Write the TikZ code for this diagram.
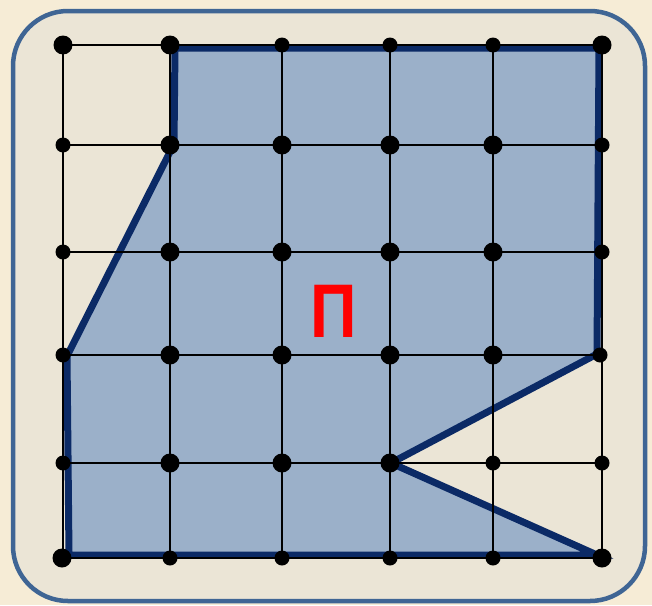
\documentclass[tikz,border=0pt]{standalone}
\usepackage{fontspec}
\newfontfamily\pefont{Liberation Sans}
\definecolor{paper}{HTML}{F6ECD6}
\definecolor{card}{HTML}{EBE5D6}
\definecolor{cardedge}{HTML}{3F6594}
\definecolor{shade}{HTML}{9BB0C9}
\definecolor{navy}{HTML}{0B2A66}
\definecolor{pered}{HTML}{FF0000}
\tikzset{
  gridline/.style={black, line width=2pt},
  outline/.style={navy, line width=7pt, line join=miter, fill=shade},
  bigdot/.style={circle, fill=black, inner sep=0pt, minimum size=19pt},
  smalldot/.style={circle, fill=black, inner sep=0pt, minimum size=15pt},
}
\begin{document}
\begin{tikzpicture}[x=1pt,y=-1pt]
\fill[paper] (0,0) rectangle (652,605);
\useasboundingbox (0,0) rectangle (652,605);
\draw[cardedge, fill=card, line width=4.5pt, rounded corners=55pt] (13,11) rectangle (645,601);
% polygon
\coordinate (p1) at (175,48);
\coordinate (p2) at (599,48);
\coordinate (p3) at (597,354);
\coordinate (p4) at (391,463);
\coordinate (p5) at (597,555);
\coordinate (p6) at (69,555);
\coordinate (p7) at (67,356);
\coordinate (p8) at (174,144);
\draw[outline] (p1) -- (p2) -- (p3) -- (p4) -- (p5) -- (p6) -- (p7) -- (p8) -- cycle;
% grid
\def\xs{63,170,282,390,493,602}
\def\ys{45,145,252,355,463,558}
\foreach \y in \ys { \draw[gridline] (63,\y) -- (602,\y); }
\foreach \x in \xs { \draw[gridline] (\x,45) -- (\x,558); }
% dots
\foreach \x/\y/\s in {63/45/big,170/45/big,282/45/small,390/45/small,493/45/small,602/45/big,
  63/145/small,170/145/big,282/145/big,390/145/big,493/145/big,602/145/small,
  63/252/small,170/252/big,282/252/big,390/252/big,493/252/big,602/252/small,
  63/355/small,170/355/big,282/355/big,390/355/big,493/355/big,600/355/small,
  63/463/small,170/463/big,282/463/big,390/463/big,493/463/small,602/463/small,
  62/558/big,170/558/small,282/558/small,390/558/small,493/558/small,602/558/big}
  { \node[\s dot] (d-\x-\y) at (\x,\y) {}; }
\node[text=pered, font=\pefont\bfseries\fontsize{76}{76}\selectfont, xscale=0.85] (pe) at (334,311) {П};
\end{tikzpicture}
\end{document}
